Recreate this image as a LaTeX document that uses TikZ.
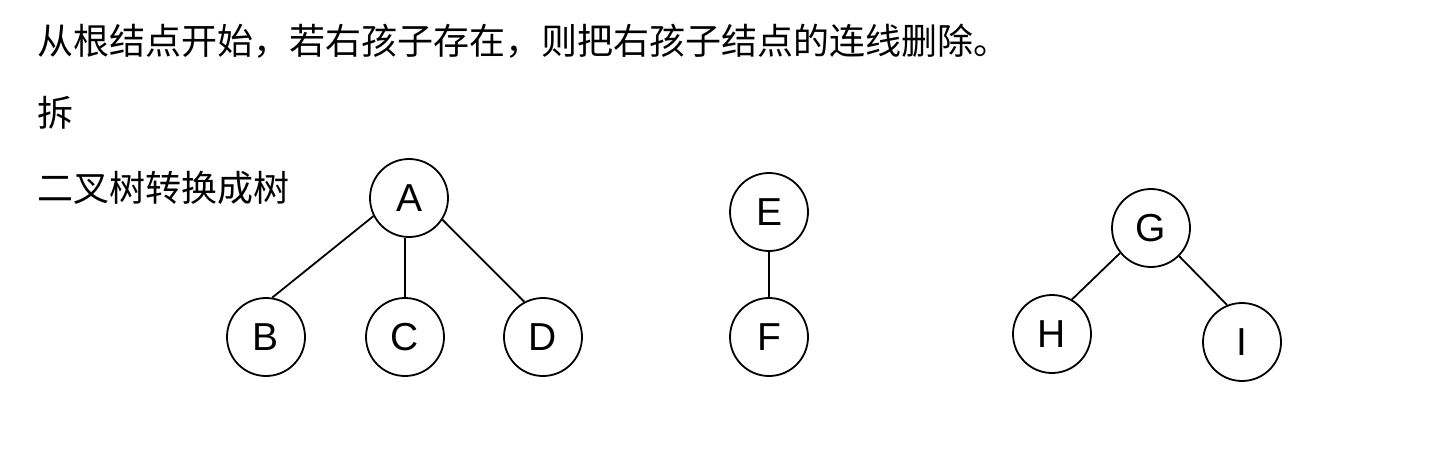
\documentclass[tikz,border=0pt]{standalone}
\usepackage{fontspec}
\setmainfont{Liberation Sans}
\newfontfamily\cjk{Noto Sans CJK SC}
\usetikzlibrary{positioning}

\begin{document}
\begin{tikzpicture}[x=0.5pt, y=-0.5pt,
  nd/.style = {draw, circle, line width=0.9pt, minimum size=39pt, inner sep=0pt, font=\fontsize{19.5}{20}\selectfont},
  txt/.style = {anchor=base west, inner sep=0pt, font=\cjk\fontsize{18}{20}\selectfont}]
\useasboundingbox (0,0) rectangle (1449,454);
\node[txt] (t1) at (37,55) {从根结点开始，若右孩子存在，则把右孩子结点的连线删除。};
\node[txt] (t2) at (37,127) {拆};
\node[txt] (t3) at (37,202) {二叉树转换成树};
% first tree
\node[nd] (a) at (409,198) {A};
\node[nd] (b) at (266,337) {B};
\node[nd] (c) at (405,337) {C};
\node[nd] (d) at (543,337) {D};
% second tree
\node[nd] (e) at (769,212) {E};
\node[nd] (f) at (769,337) {F};
% third tree
\node[nd] (g) at (1151,228) {G};
\node[nd] (h) at (1052,334) {H};
\node[nd] (i) at (1242,342) {I};
\draw [line width=0.9pt] (a.207) -- (b.81);
\draw [line width=0.9pt] (c.north) -- (c.north |- a.south);
\draw [line width=0.9pt] (a.327) -- (d.118);
\draw [line width=0.9pt] (e) -- (f);
\draw [line width=0.9pt] (g.219) -- (h.60);
\draw [line width=0.9pt] (g.315) -- (i.112);
\end{tikzpicture}
\end{document}
